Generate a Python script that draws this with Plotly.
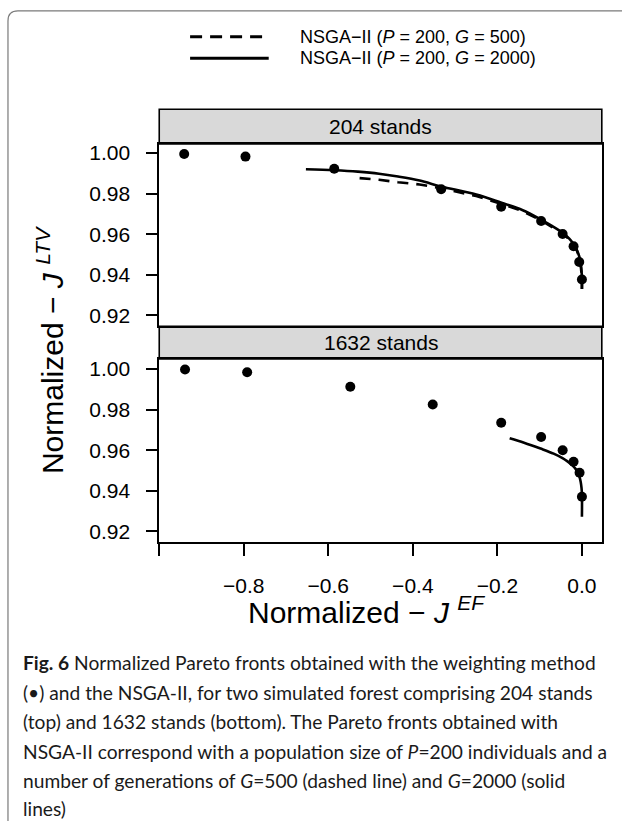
import plotly.graph_objects as go

W, H = 622, 821

# ---------------- data ----------------
# 204 stands: weighting method points
wp1_x = [-0.941, -0.796, -0.586, -0.333, -0.191, -0.0965, -0.0456, -0.0198, -0.0064, 0.0]
wp1_y = [0.9995, 0.9982, 0.9922, 0.9821, 0.9735, 0.9665, 0.9601, 0.9541, 0.9463, 0.9377]
# 204 stands: NSGA-II G=2000 (solid)
sol1_x = [-0.653, -0.586, -0.53, -0.48, -0.435, -0.384, -0.333, -0.25, -0.191, -0.14,
          -0.097, -0.07, -0.046, -0.03, -0.02, -0.012, -0.006, -0.003, -0.001, 0.0, 0.0]
sol1_y = [0.9920, 0.9915, 0.9908, 0.9898, 0.9884, 0.9864, 0.9835, 0.9795, 0.9755, 0.9718,
          0.9672, 0.9640, 0.9608, 0.9578, 0.9552, 0.9522, 0.9488, 0.9455, 0.9420, 0.9380, 0.9330]
# 204 stands: NSGA-II G=500 (dashed)
das1_x = [-0.526, -0.48, -0.435, -0.384, -0.333, -0.25, -0.191, -0.14, -0.097, -0.07,
          -0.046, -0.03, -0.02, -0.012, -0.006, -0.003, -0.001, 0.0, 0.0]
das1_y = [0.9876, 0.9868, 0.9856, 0.9845, 0.9826, 0.9788, 0.9750, 0.9713, 0.9668, 0.9636,
          0.9604, 0.9575, 0.9549, 0.9519, 0.9485, 0.9452, 0.9418, 0.9378, 0.9330]
# 1632 stands: weighting method points
wp2_x = [-0.939, -0.792, -0.548, -0.353, -0.191, -0.0965, -0.0456, -0.0198, -0.0056, 0.0]
wp2_y = [0.9997, 0.9984, 0.9912, 0.9825, 0.9735, 0.9665, 0.9600, 0.9543, 0.9489, 0.9371]
# 1632 stands: NSGA-II G=2000 (solid)
sol2_x = [-0.171, -0.137, -0.098, -0.067, -0.046, -0.035, -0.024, -0.015, -0.010, -0.006,
          -0.003, -0.001, 0.0, 0.0]
sol2_y = [0.9659, 0.9637, 0.9608, 0.9583, 0.9561, 0.9546, 0.9528, 0.9508, 0.9490, 0.9470,
          0.9445, 0.9415, 0.9384, 0.9273]

panel_titles = ["204 stands", "1632 stands"]
x_tickvals = [-1.0, -0.8, -0.6, -0.4, -0.2, 0.0]
x_ticktext = [" ", "\u22120.8", "\u22120.6", "\u22120.4", "\u22120.2", "0.0"]
y_tickvals = [0.92, 0.94, 0.96, 0.98, 1.00]
y_ticktext = ["0.92", "0.94", "0.96", "0.98", "1.00"]
legend_labels = ["NSGA\u2212II (<i>P</i> = 200, <i>G</i> = 500)",
                 "NSGA\u2212II (<i>P</i> = 200, <i>G</i> = 2000)"]
caption_lines = [
    "<b>Fig. 6</b> Normalized Pareto fronts obtained with the weighting method",
    "(\u2022) and the NSGA-II, for two simulated forest comprising 204 stands",
    "(top) and 1632 stands (bottom). The Pareto fronts obtained with",
    "NSGA-II correspond with a population size of <i>P</i>=200 individuals and a",
    "number of generations of <i>G</i>=500 (dashed line) and <i>G</i>=2000 (solid",
    "lines)",
]

# ---------------- helpers (pixel -> paper) ----------------
def px(x):
    return x / W

def py(y):
    return 1 - y / H

FONT = "Liberation Sans, Arial, sans-serif"
X0, X1 = 157.0, 601.7
P1_TOP, P1_BOT = 141.7, 325.0
P2_TOP, P2_BOT = 357.7, 541.7
S1_TOP, S2_TOP = 106.7, 325.0

fig = go.Figure()

line_w = 2.6
fig.add_trace(go.Scatter(x=das1_x, y=das1_y, mode="lines",
                         line=dict(color="black", width=line_w, dash="11px,8px"),
                         xaxis="x", yaxis="y", showlegend=False))
fig.add_trace(go.Scatter(x=sol1_x, y=sol1_y, mode="lines", line_shape="spline",
                         line=dict(color="black", width=line_w),
                         xaxis="x", yaxis="y", showlegend=False))
fig.add_trace(go.Scatter(x=wp1_x, y=wp1_y, mode="markers",
                         marker=dict(color="black", size=10),
                         xaxis="x", yaxis="y", showlegend=False))
fig.add_trace(go.Scatter(x=sol2_x, y=sol2_y, mode="lines", line_shape="spline",
                         line=dict(color="black", width=line_w),
                         xaxis="x2", yaxis="y2", showlegend=False))
fig.add_trace(go.Scatter(x=wp2_x, y=wp2_y, mode="markers",
                         marker=dict(color="black", size=10),
                         xaxis="x2", yaxis="y2", showlegend=False))

xr = [-1.0, 0.047]
y1r = [0.9146, 1.0044]
y2r = [0.9148, 1.0049]

axis_common = dict(showgrid=False, zeroline=False, showline=True, mirror=True,
                   linecolor="black", linewidth=1.6)

fig.update_layout(
    width=W, height=H,
    margin=dict(l=0, r=0, t=0, b=0),
    paper_bgcolor="white", plot_bgcolor="white",
    font=dict(family=FONT, color="black"),
    xaxis=dict(domain=[px(X0), px(X1)], range=xr, anchor="y",
               showticklabels=False, ticks="", **axis_common),
    yaxis=dict(domain=[py(P1_BOT), py(P1_TOP)], range=y1r, anchor="x",
               tickvals=y_tickvals, ticktext=y_ticktext, ticks="outside",
               ticklen=11, tickwidth=1.6, tickcolor="black",
               tickfont=dict(size=21, family=FONT, color="black"),
               ticklabelstandoff=12, **axis_common),
    xaxis2=dict(domain=[px(X0), px(X1)], range=xr, anchor="y2",
                tickvals=x_tickvals, ticktext=x_ticktext, ticks="outside",
                ticklen=12, tickwidth=1.6, tickcolor="black",
                tickfont=dict(size=21, family=FONT, color="black"),
                ticklabelstandoff=12, **axis_common),
    yaxis2=dict(domain=[py(P2_BOT), py(P2_TOP)], range=y2r, anchor="x2",
                tickvals=y_tickvals, ticktext=y_ticktext, ticks="outside",
                ticklen=11, tickwidth=1.6, tickcolor="black",
                tickfont=dict(size=21, family=FONT, color="black"),
                ticklabelstandoff=12, **axis_common),
)

shapes = []
# outer rounded frame
r = 10
path = (f"M {px(5)},{py(840)} L {px(5)},{py(8 + r)} "
        f"Q {px(5)},{py(8)} {px(5 + r)},{py(8)} L {px(650)},{py(8)}")
shapes.append(dict(type="path", path=path, xref="paper", yref="paper",
                   line=dict(color="#7a7a7a", width=1.2)))
# strips
for top, bot in [(S1_TOP, P1_TOP), (S2_TOP, P2_TOP)]:
    shapes.append(dict(type="rect", xref="paper", yref="paper",
                       x0=px(X0), x1=px(X1), y0=py(bot), y1=py(top),
                       fillcolor="#d9d9d9", line=dict(color="black", width=1.6),
                       layer="below"))
# legend keys
shapes.append(dict(type="line", xref="paper", yref="paper",
                   x0=px(188), x1=px(262), y0=py(34), y1=py(34),
                   line=dict(color="black", width=3, dash="12px,8px")))
shapes.append(dict(type="line", xref="paper", yref="paper",
                   x0=px(188), x1=px(267), y0=py(55.5), y1=py(55.5),
                   line=dict(color="black", width=3)))
fig.update_layout(shapes=shapes)

ann = []
for title, top, bot in [(panel_titles[0], S1_TOP, P1_TOP), (panel_titles[1], S2_TOP, P2_TOP)]:
    ann.append(dict(text=title, xref="paper", yref="paper",
                    x=px((X0 + X1) / 2), y=py((top + bot) / 2),
                    xanchor="center", yanchor="middle", showarrow=False,
                    font=dict(size=21, family=FONT)))
for lab, yy in zip(legend_labels, [34, 55.5]):
    ann.append(dict(text=lab, xref="paper", yref="paper", x=px(296), y=py(yy),
                    xanchor="left", yanchor="middle", showarrow=False,
                    font=dict(size=18, family=FONT)))
# axis titles
ann.append(dict(text="Normalized \u2212 <i>J</i> <sup><i>EF</i></sup>",
                xref="paper", yref="paper", x=px(365), y=py(610),
                xanchor="center", yanchor="middle", showarrow=False,
                font=dict(size=30, family=FONT)))
ann.append(dict(text="Normalized \u2212 <i>J</i> <sup><i>LTV</i></sup>",
                xref="paper", yref="paper", x=px(48), y=py(349),
                xanchor="center", yanchor="middle", showarrow=False, textangle=-90,
                font=dict(size=30, family=FONT)))
# caption
cap_y = [663, 693, 722, 752, 781, 809]
for line, yy in zip(caption_lines, cap_y):
    ann.append(dict(text=line, xref="paper", yref="paper", x=px(18), y=py(yy),
                    xanchor="left", yanchor="middle", showarrow=False,
                    font=dict(size=19.2, family="Lato, Open Sans, sans-serif", color="#1a1a1a")))
fig.update_layout(annotations=ann)

fig.write_html("out.html",
               config={"displayModeBar": False},
               post_script="document.body.style.margin='0';document.body.style.padding='0';"
                           "document.documentElement.style.overflow='hidden';")
